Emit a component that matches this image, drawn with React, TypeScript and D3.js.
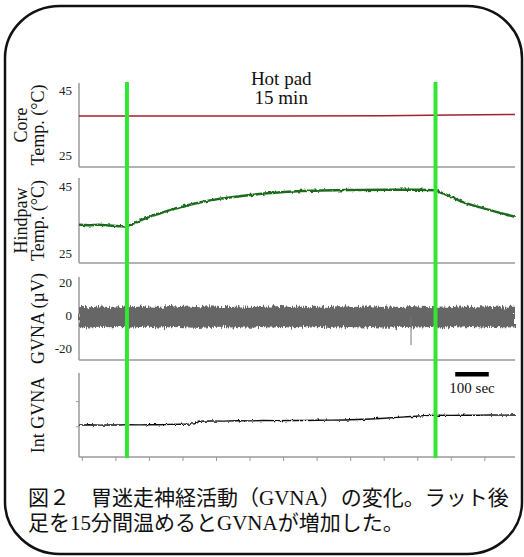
import React, { useEffect, useRef } from 'react';
import * as d3 from 'd3';

// Recording time in seconds, hot pad on/off
const padOn = 133;
const padOff = 1053;
const timeTicks = [0, 100, 200, 300, 400, 500, 600, 700, 800, 900, 1000, 1100, 1200];
const scaleBarSec = 100;

// Core temperature (°C)
const coreTime = [-10, 300, 600, 900, 1100, 1290];
const coreTemp = [37.6, 37.6, 37.6, 37.7, 37.9, 38.1];

// Hindpaw temperature (°C)
const pawTime = [-10, 20, 50, 80, 110, 133, 150, 175, 200, 230, 260, 290, 320, 350, 400, 450, 500, 550, 600, 650, 700, 800, 900, 1000, 1053, 1065, 1090, 1135, 1175, 1215, 1255, 1290];
const pawTemp = [34.0, 33.9, 34.0, 33.8, 33.6, 33.5, 34.3, 35.4, 36.4, 37.4, 38.4, 39.2, 40.0, 40.7, 41.6, 42.3, 42.9, 43.4, 43.8, 44.1, 44.2, 44.4, 44.5, 44.5, 44.3, 43.8, 42.8, 40.8, 39.5, 38.4, 37.3, 36.4];

// Raw GVNA (µV): envelope of the trace
const gvnaTime = [-10, 20, 50, 80, 110, 140, 170, 200, 230, 260, 290, 320, 350, 380, 410, 440, 470, 500, 530, 560, 590, 620, 650, 680, 710, 740, 770, 800, 830, 860, 890, 920, 950, 980, 1010, 1040, 1070, 1100, 1130, 1160, 1190, 1220, 1250, 1290];
const gvnaHigh = [6.1, 5.9, 6.3, 6.0, 6.5, 5.9, 6.2, 6.4, 6.0, 6.6, 6.1, 6.3, 5.9, 6.5, 6.1, 6.0, 6.4, 6.2, 6.0, 6.3, 6.7, 6.1, 6.3, 5.9, 6.4, 6.1, 6.6, 6.0, 6.2, 6.5, 6.0, 6.3, 6.1, 6.6, 6.2, 5.9, 6.4, 6.1, 6.3, 6.0, 6.5, 6.1, 6.3, 6.2];
const gvnaLow = [-6.0, -6.3, -5.9, -6.2, -6.0, -6.5, -6.1, -5.9, -6.4, -6.2, -6.0, -6.3, -6.6, -6.1, -5.9, -6.4, -6.2, -6.5, -6.0, -6.3, -6.1, -6.4, -5.9, -6.3, -6.1, -6.6, -6.2, -6.0, -6.4, -6.1, -6.3, -6.5, -5.9, -6.2, -6.3, -6.1, -6.4, -6.0, -6.3, -6.1, -6.4, -5.9, -6.2, -6.3];
const artifactTime = 980;
const artifactLow = -17;

// Integrated GVNA (a.u.)
const intTime = [-10, 20, 50, 80, 110, 140, 170, 200, 230, 260, 290, 320, 335, 345, 380, 420, 460, 500, 540, 580, 620, 660, 700, 740, 780, 820, 860, 900, 940, 980, 1020, 1060, 1100, 1140, 1180, 1220, 1260, 1290];
const intValue = [38.0, 38.4, 37.9, 38.3, 38.1, 38.5, 38.2, 38.6, 38.4, 38.8, 39.0, 39.3, 39.6, 42.6, 42.8, 42.7, 43.1, 43.0, 43.4, 43.3, 43.6, 43.5, 43.8, 43.9, 44.1, 44.6, 45.3, 46.2, 47.2, 48.3, 49.3, 49.8, 49.6, 49.9, 49.7, 50.1, 49.8, 50.0];
const intTicks = [36, 66];

const SERIF = "'Liberation Serif', 'Times New Roman', serif";
const CAPTION_FONT = "'Liberation Serif', 'Noto Sans CJK JP', sans-serif";

const App = () => {
    const svgRef = useRef<SVGSVGElement>(null);

    useEffect(() => {
        if (!svgRef.current) return;
        const svg = d3.select(svgRef.current);
        svg.selectAll('*').remove();

        const left = 79;
        const right = 515;
        const x = d3.scaleLinear().domain([-10, 1290]).range([left, right]);
        const axisColor = '#9a9a9a';

        // noisy texture for the recorded traces
        const defs = svg.append('defs');
        const fuzz = defs.append('filter').attr('id', 'fuzz')
            .attr('x', '-1%').attr('y', '-40%').attr('width', '102%').attr('height', '180%');
        fuzz.append('feTurbulence').attr('type', 'fractalNoise')
            .attr('baseFrequency', '0.9 0.08').attr('numOctaves', 2).attr('seed', 4).attr('result', 'n');
        fuzz.append('feDisplacementMap').attr('in', 'SourceGraphic').attr('in2', 'n')
            .attr('scale', 7).attr('xChannelSelector', 'A').attr('yChannelSelector', 'G');
        const jitter = defs.append('filter').attr('id', 'jitter')
            .attr('x', '-1%').attr('y', '-100%').attr('width', '102%').attr('height', '300%');
        jitter.append('feTurbulence').attr('type', 'fractalNoise')
            .attr('baseFrequency', '0.35 0.2').attr('numOctaves', 2).attr('seed', 7).attr('result', 'n');
        jitter.append('feDisplacementMap').attr('in', 'SourceGraphic').attr('in2', 'n')
            .attr('scale', 3).attr('xChannelSelector', 'A').attr('yChannelSelector', 'G');

        // Rounded frame
        svg.append('rect')
            .attr('x', 5).attr('y', 6)
            .attr('width', 517).attr('height', 548)
            .attr('rx', 55).attr('ry', 52)
            .attr('fill', 'white')
            .attr('stroke', '#111').attr('stroke-width', 2.5);

        const panels = [
            { key: 'core', top: 83, bottom: 167, domain: [25, 45], range: [157, 92], labels: ['Core', 'Temp. (°C)'], ticks: [25, 45] },
            { key: 'paw', top: 178, bottom: 263, domain: [25, 45], range: [255, 188], labels: ['Hindpaw', 'Temp. (°C)'], ticks: [25, 45] },
            { key: 'gvna', top: 277, bottom: 360, domain: [-20, 20], range: [350, 284], labels: ['GVNA (µV)'], ticks: [-20, 0, 20] },
            { key: 'int', top: 373, bottom: 457, domain: [0, 100], range: [457, 373], labels: ['Int GVNA'], ticks: [] as number[] },
        ];
        const scales: Record<string, d3.ScaleLinear<number, number>> = {};

        panels.forEach(p => {
            const y = d3.scaleLinear().domain(p.domain).range(p.range);
            scales[p.key] = y;
            const g = svg.append('g');
            g.append('line')
                .attr('x1', left).attr('x2', left)
                .attr('y1', p.top).attr('y2', p.bottom)
                .attr('stroke', axisColor).attr('stroke-width', 1.5);
            g.append('line')
                .attr('x1', left).attr('x2', right)
                .attr('y1', p.bottom).attr('y2', p.bottom)
                .attr('stroke', axisColor).attr('stroke-width', 1.5);
            g.selectAll('text.tick')
                .data(p.ticks)
                .enter()
                .append('text')
                .attr('class', 'tick')
                .attr('x', 72)
                .attr('y', d => y(d))
                .attr('text-anchor', 'end')
                .attr('dominant-baseline', 'middle')
                .attr('font-family', SERIF)
                .attr('font-size', 13)
                .attr('fill', '#222')
                .text(d => d);

            const cy = (p.top + p.bottom) / 2;
            const baselines = p.labels.length === 2 ? [27, 44] : [44];
            p.labels.forEach((lab, i) => {
                g.append('text')
                    .attr('transform', `translate(${baselines[i]},${cy}) rotate(-90)`)
                    .attr('text-anchor', 'middle')
                    .attr('font-family', SERIF)
                    .attr('font-size', 18)
                    .attr('fill', '#111')
                    .text(lab);
            });
        });

        // Int GVNA ticks
        const yInt = scales.int;
        svg.append('g').selectAll('line')
            .data(intTicks)
            .enter()
            .append('line')
            .attr('x1', left - 3).attr('x2', left)
            .attr('y1', d => yInt(d)).attr('y2', d => yInt(d))
            .attr('stroke', axisColor).attr('stroke-width', 1);
        svg.append('g').selectAll('line')
            .data(timeTicks)
            .enter()
            .append('line')
            .attr('x1', d => x(d)).attr('x2', d => x(d))
            .attr('y1', 457).attr('y2', 461)
            .attr('stroke', axisColor).attr('stroke-width', 1);

        // Core temperature
        const coreData = coreTime.map((t, i) => [t, coreTemp[i]] as [number, number]);
        svg.append('path')
            .attr('d', d3.line<[number, number]>().x(d => x(d[0])).y(d => scales.core(d[1]))(coreData))
            .attr('fill', 'none')
            .attr('stroke', '#a3232b')
            .attr('stroke-width', 1.5);

        // Hindpaw temperature
        const pawData = pawTime.map((t, i) => [t, pawTemp[i]] as [number, number]);
        svg.append('path')
            .attr('d', d3.line<[number, number]>().x(d => x(d[0])).y(d => scales.paw(d[1])).curve(d3.curveMonotoneX)(pawData))
            .attr('fill', 'none')
            .attr('stroke', '#1d6b1d')
            .attr('stroke-width', 2.5)
            .attr('filter', 'url(#jitter)');

        // Raw GVNA band
        const gvnaData = gvnaTime.map((t, i) => ({ t, hi: gvnaHigh[i], lo: gvnaLow[i] }));
        svg.append('path')
            .attr('d', d3.area<{ t: number; hi: number; lo: number }>()
                .x(d => x(d.t))
                .y0(d => scales.gvna(d.lo))
                .y1(d => scales.gvna(d.hi))(gvnaData))
            .attr('fill', '#666')
            .attr('filter', 'url(#fuzz)');
        svg.append('line')
            .attr('x1', x(artifactTime)).attr('x2', x(artifactTime))
            .attr('y1', scales.gvna(0)).attr('y2', scales.gvna(artifactLow))
            .attr('stroke', '#777').attr('stroke-width', 1);

        // Integrated GVNA
        const intData = intTime.map((t, i) => [t, intValue[i]] as [number, number]);
        svg.append('path')
            .attr('d', d3.line<[number, number]>().x(d => x(d[0])).y(d => yInt(d[1]))(intData))
            .attr('fill', 'none')
            .attr('stroke', '#111')
            .attr('stroke-width', 1.4)
            .attr('filter', 'url(#jitter)');

        // Hot pad markers
        svg.append('g').selectAll('line')
            .data([padOn, padOff])
            .enter()
            .append('line')
            .attr('x1', d => x(d)).attr('x2', d => x(d))
            .attr('y1', 82).attr('y2', 458)
            .attr('stroke', '#33e633').attr('stroke-width', 4);

        const padMid = x((padOn + padOff) / 2);
        svg.append('text')
            .attr('x', padMid).attr('y', 85)
            .attr('text-anchor', 'middle')
            .attr('font-family', SERIF).attr('font-size', 19).attr('fill', '#111')
            .text('Hot pad');
        svg.append('text')
            .attr('x', padMid).attr('y', 104)
            .attr('text-anchor', 'middle')
            .attr('font-family', SERIF).attr('font-size', 19).attr('fill', '#111')
            .text(`${Math.round((padOff - padOn) / 60)} min`);

        // Scale bar
        const barCenter = 472;
        const barW = x(scaleBarSec) - x(0);
        svg.append('rect')
            .attr('x', barCenter - barW / 2).attr('y', 372)
            .attr('width', barW).attr('height', 4.5)
            .attr('fill', '#000');
        svg.append('text')
            .attr('x', barCenter).attr('y', 393)
            .attr('text-anchor', 'middle')
            .attr('font-family', SERIF).attr('font-size', 15).attr('fill', '#111')
            .text(`${scaleBarSec} sec`);

        // Caption
        const caption = ['図２　胃迷走神経活動（GVNA）の変化。ラット後', '足を15分間温めるとGVNAが増加した。'];
        svg.append('g').selectAll('text')
            .data(caption)
            .enter()
            .append('text')
            .attr('x', 28)
            .attr('y', (d, i) => 505 + i * 25)
            .attr('font-family', CAPTION_FONT)
            .attr('font-size', 21)
            .attr('fill', '#111')
            .text(d => d);
    }, []);

    return (
        <svg
            ref={svgRef}
            width={524}
            height={557}
            viewBox="0 0 524 557"
            style={{ position: 'absolute', left: 0, top: 0, background: 'white' }}
        />
    );
};

export default App;
